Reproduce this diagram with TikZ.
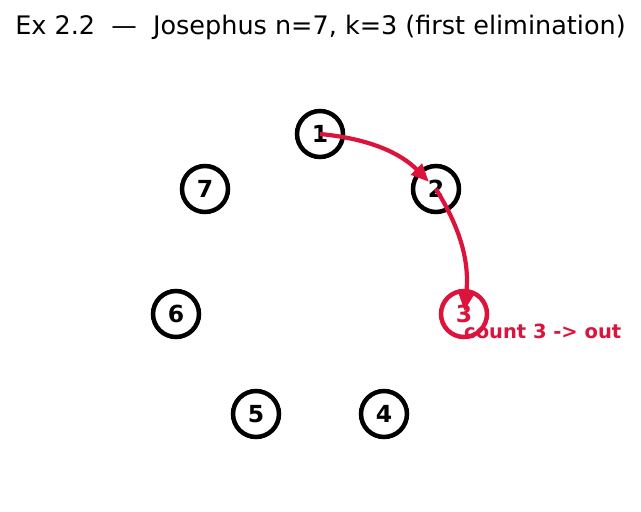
\documentclass[tikz,border=0pt]{standalone}
\usepackage{fontspec}
\setmainfont{DejaVu Sans}
\usepackage{xcolor}
\usetikzlibrary{arrows.meta}
\definecolor{crimson}{HTML}{DC143C}

\begin{document}
\begin{tikzpicture}[x=1pt,y=-1pt,
  person/.style={circle, draw=black, line width=4.5pt, minimum size=46pt, inner sep=0pt, font=\fontsize{23.5}{23.5}\selectfont\bfseries},
  eliminated/.style={person, draw=crimson, text=crimson},
  countarrow/.style={draw=crimson, line width=4.2pt, -{Triangle[length=18pt,width=15pt]}}]
\useasboundingbox (0,0) rectangle (641,512);
\node[anchor=base] (title) at (320.5,34) {\fontsize{25.5}{25.5}\selectfont Ex 2.2\ \ —\ \ Josephus n=7, k=3 (first elimination)};

\node[person] (p1) at (320,134) {1};
\node[person] (p2) at (436,189) {2};
\node[eliminated] (p3) at (464,314) {3};
\node[person] (p4) at (384,414) {4};
\node[person] (p5) at (256,414) {5};
\node[person] (p6) at (176,314) {6};
\node[person] (p7) at (205,189) {7};

\draw[countarrow, shorten >=10pt] (p1.center) to[bend left=20] (p2.center);
\draw[countarrow, shorten >=3pt] (p2.center) to[bend left=19] (p3.center);
\node[anchor=base west, text=crimson, font=\fontsize{19.5}{19.5}\selectfont\bfseries, inner sep=0pt] (note) at (464,338) {count 3 -> out};
\end{tikzpicture}
\end{document}
